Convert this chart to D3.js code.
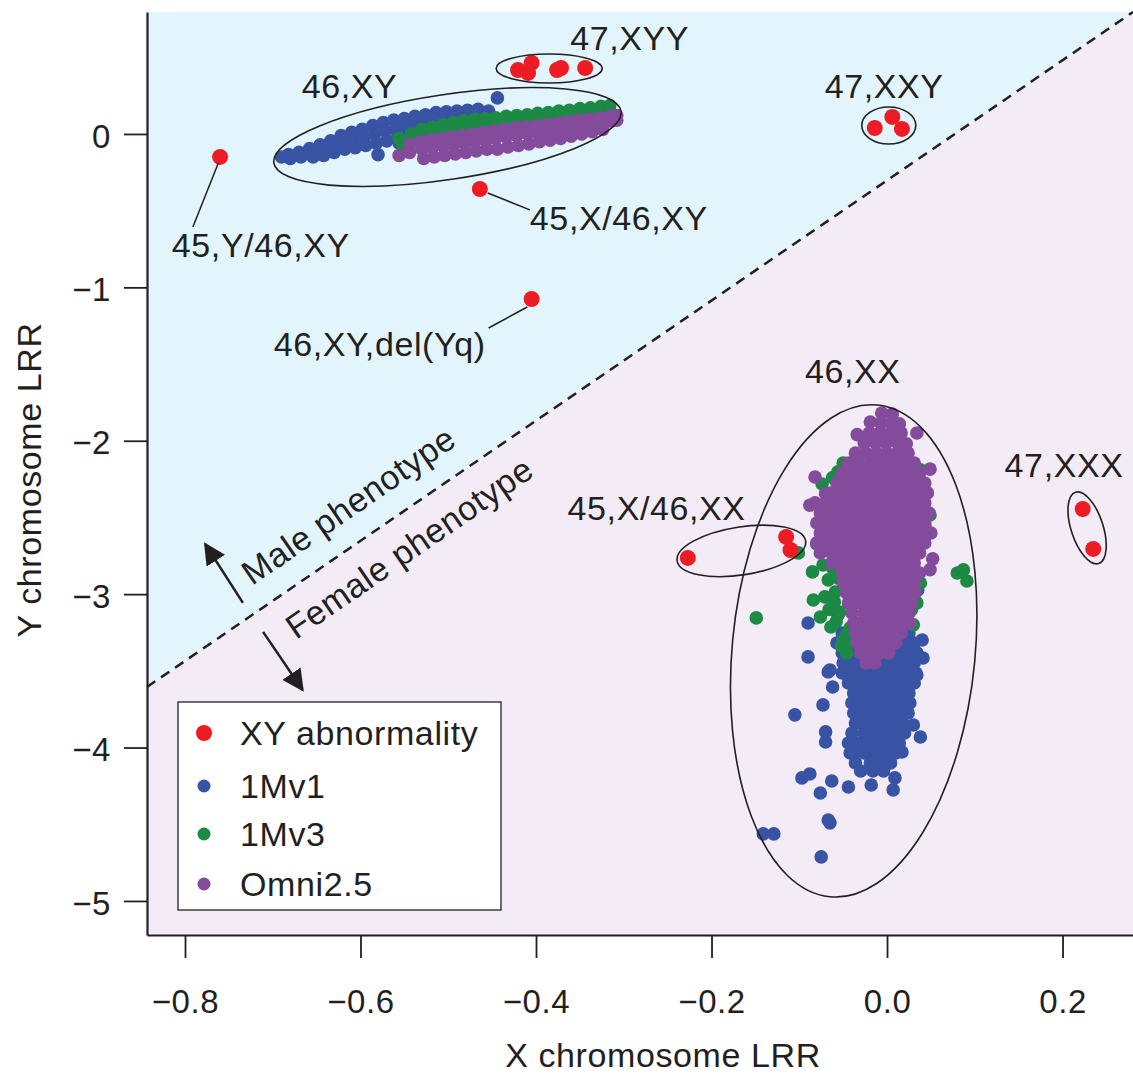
<!DOCTYPE html>
<html>
<head>
<meta charset="utf-8">
<script src="https://cdn.jsdelivr.net/npm/d3@7/dist/d3.min.js"></script>
<style>
body { margin: 0; background: #fff; }
svg text { font-family: "Liberation Sans", Arial, Helvetica, sans-serif; fill: #231f20; }
</style>
</head>
<body>
<svg id="chart"></svg>
<script>
var w = 1133, h = 1074;

// ---- data ----
var xTicks = [-0.8, -0.6, -0.4, -0.2, 0.0, 0.2];
var yTicks = [0, -1, -2, -3, -4, -5];
var seriesNames = ["XY abnormality", "1Mv1", "1Mv3", "Omni2.5"];
var seriesColors = ["#ed1c24", "#3853a4", "#1c8a45", "#844b9d"];

// phenotype boundary (X LRR, Y LRR)
var boundary = [[-0.8433, -3.605], [0.2803, 0.795]];

// 1Mv1 samples, male cluster
var v1Male = [
  [-0.690,-0.150],[-0.682,-0.135],[-0.680,-0.160],[-0.670,-0.120],[-0.668,-0.150],
  [-0.658,-0.095],[-0.656,-0.130],[-0.654,-0.150],[-0.646,-0.070],[-0.644,-0.105],[-0.642,-0.140],
  [-0.634,-0.045],[-0.632,-0.085],[-0.630,-0.120],[-0.622,-0.010],[-0.620,-0.060],[-0.618,-0.100],
  [-0.610,0.010],[-0.608,-0.040],[-0.606,-0.090],[-0.598,0.030],[-0.596,-0.020],[-0.594,-0.075],
  [-0.586,0.055],[-0.584,0.000],[-0.582,-0.060],[-0.580,-0.135],[-0.574,0.075],[-0.572,0.020],[-0.570,-0.045],
  [-0.562,0.090],[-0.560,0.035],[-0.558,-0.020],[-0.556,-0.060],[-0.550,0.100],[-0.548,0.050],[-0.546,0.000],
  [-0.538,0.115],[-0.536,0.065],[-0.534,0.020],[-0.526,0.125],[-0.524,0.080],[-0.522,0.035],
  [-0.514,0.140],[-0.512,0.095],[-0.510,0.050],[-0.502,0.145],[-0.500,0.105],[-0.490,0.150],[-0.488,0.115],
  [-0.478,0.155],[-0.476,0.120],[-0.466,0.160],[-0.464,0.125],[-0.454,0.150],[-0.452,0.120],[-0.444,0.235]
];
// 1Mv1 samples, female cluster
var v1Female = [
  [-0.051,-3.253],[-0.038,-3.253],[-0.026,-3.253],[-0.013,-3.253],[-0.001,-3.253],[0.012,-3.253],[0.025,-3.253],
  [-0.057,-3.318],[-0.044,-3.318],[-0.032,-3.318],[-0.019,-3.318],[-0.007,-3.318],[0.006,-3.318],[0.018,-3.318],[0.031,-3.318],
  [-0.051,-3.383],[-0.038,-3.383],[-0.026,-3.383],[-0.013,-3.383],[-0.001,-3.383],[0.012,-3.383],[0.025,-3.383],[0.034,-3.383],
  [-0.050,-3.449],[-0.044,-3.449],[-0.032,-3.449],[-0.019,-3.449],[-0.007,-3.449],[0.006,-3.449],[0.018,-3.449],[0.031,-3.449],
  [-0.051,-3.514],[-0.038,-3.514],[-0.026,-3.514],[-0.013,-3.514],[-0.001,-3.514],[0.012,-3.514],[0.025,-3.514],[0.033,-3.514],
  [-0.044,-3.579],[-0.032,-3.579],[-0.019,-3.579],[-0.007,-3.579],[0.006,-3.579],[0.018,-3.579],[0.031,-3.579],
  [-0.038,-3.644],[-0.026,-3.644],[-0.013,-3.644],[-0.001,-3.644],[0.012,-3.644],[0.025,-3.644],
  [-0.040,-3.709],[-0.032,-3.709],[-0.019,-3.709],[-0.007,-3.709],[0.006,-3.709],[0.018,-3.709],[0.026,-3.709],
  [-0.038,-3.775],[-0.026,-3.775],[-0.013,-3.775],[-0.001,-3.775],[0.012,-3.775],[0.024,-3.775],
  [-0.036,-3.840],[-0.032,-3.840],[-0.019,-3.840],[-0.007,-3.840],[0.006,-3.840],[0.018,-3.840],
  [-0.040,-3.905],[-0.026,-3.905],[-0.013,-3.905],[-0.001,-3.905],[0.012,-3.905],[0.020,-3.905],
  [-0.044,-3.970],[-0.032,-3.970],[-0.019,-3.970],[-0.007,-3.970],[0.006,-3.970],[0.014,-3.970],
  [-0.042,-4.035],[-0.038,-4.035],[-0.026,-4.035],[-0.013,-4.035],[-0.001,-4.035],[0.010,-4.035],
  [-0.036,-4.100],[-0.019,-4.100],[-0.007,-4.100],[0.004,-4.100],[-0.030,-4.153],[-0.016,-4.153],[-0.004,-4.153],
  [-0.090,-3.188],[-0.090,-3.409],[-0.065,-3.494],[-0.062,-3.605],[-0.073,-3.722],[-0.105,-3.787],
  [-0.070,-3.898],[-0.070,-3.964],[-0.097,-4.198],[-0.088,-4.172],[-0.063,-4.218],[-0.076,-4.296],
  [-0.044,-4.257],[-0.018,-4.244],[0.007,-4.276],[0.009,-4.198],[-0.067,-4.472],[-0.065,-4.491],
  [-0.141,-4.563],[-0.129,-4.563],[-0.075,-4.713],[0.038,-3.931],[0.030,-3.853],[0.017,-4.029],
  [0.040,-3.299],[0.041,-3.416],[0.034,-3.527],[-0.056,-3.136],[0.035,-2.973],[-0.067,-3.507]
];
// 1Mv3 samples, male cluster
var v3Male = [
  [-0.556,-0.030],[-0.552,-0.075],[-0.550,-0.100],[-0.542,0.000],[-0.540,-0.050],[-0.530,0.030],[-0.528,-0.020],
  [-0.518,0.045],[-0.516,0.000],[-0.506,0.060],[-0.504,0.015],[-0.494,0.075],[-0.492,0.030],
  [-0.482,0.085],[-0.480,0.040],[-0.470,0.095],[-0.468,0.050],[-0.458,0.100],[-0.456,0.060],
  [-0.446,0.105],[-0.444,0.065],[-0.434,0.115],[-0.432,0.075],[-0.422,0.120],[-0.420,0.080],
  [-0.410,0.125],[-0.408,0.085],[-0.398,0.135],[-0.396,0.095],[-0.386,0.140],[-0.384,0.100],
  [-0.374,0.150],[-0.372,0.110],[-0.362,0.155],[-0.360,0.115],[-0.350,0.165],[-0.348,0.125],
  [-0.338,0.170],[-0.336,0.130],[-0.326,0.180],[-0.324,0.140],[-0.316,0.185],[-0.316,0.150]
];
// 1Mv3 samples, female cluster
var v3Female = [
  [-0.050,-2.145],[-0.074,-2.282],[-0.056,-2.203],[-0.062,-2.240],[-0.080,-2.673],[-0.071,-2.712],
  [-0.085,-2.855],[-0.073,-2.810],[-0.062,-2.829],[-0.067,-2.907],[-0.056,-2.894],[-0.059,-2.986],
  [-0.048,-2.973],[-0.071,-3.018],[-0.084,-3.038],[-0.060,-3.050],[-0.066,-3.100],[-0.054,-3.116],
  [-0.076,-3.149],[-0.058,-3.180],[-0.064,-3.214],[-0.042,-3.220],[-0.046,-3.260],[-0.050,-3.299],
  [-0.052,-3.340],[-0.040,-3.300],[-0.046,-3.383],[-0.031,-3.331],[-0.024,-3.300],[-0.017,-3.364],
  [-0.010,-3.340],[-0.005,-3.299],[0.002,-3.330],[0.009,-3.299],[0.016,-3.250],[0.023,-3.149],
  [0.030,-3.200],[0.028,-3.100],[0.034,-3.057],[0.038,-2.927],[0.043,-2.549],[0.049,-2.484],
  [0.038,-2.190],[-0.149,-3.155],[0.080,-2.862],[0.087,-2.842],[0.091,-2.914],[-0.101,-2.731]
];
// Omni2.5 samples, male cluster
var omniMale = [
  [-0.556,-0.140],[-0.544,-0.070],[-0.544,-0.120],[-0.532,-0.050],[-0.530,-0.100],[-0.528,-0.160],
  [-0.520,-0.040],[-0.518,-0.090],[-0.516,-0.150],[-0.508,-0.030],[-0.506,-0.080],[-0.504,-0.140],
  [-0.496,-0.020],[-0.494,-0.070],[-0.492,-0.130],[-0.484,-0.010],[-0.482,-0.060],[-0.480,-0.120],
  [-0.472,0.000],[-0.470,-0.050],[-0.468,-0.110],[-0.460,0.010],[-0.458,-0.040],[-0.456,-0.100],
  [-0.448,0.020],[-0.446,-0.030],[-0.444,-0.100],[-0.436,0.030],[-0.434,-0.020],[-0.432,-0.085],
  [-0.424,0.040],[-0.422,-0.010],[-0.420,-0.075],[-0.412,0.045],[-0.410,0.000],[-0.408,-0.065],
  [-0.400,0.055],[-0.398,0.005],[-0.396,-0.050],[-0.388,0.060],[-0.386,0.015],[-0.384,-0.040],
  [-0.376,0.070],[-0.374,0.025],[-0.372,-0.030],[-0.364,0.080],[-0.362,0.035],[-0.360,-0.015],
  [-0.352,0.090],[-0.350,0.045],[-0.348,0.000],[-0.340,0.095],[-0.338,0.055],[-0.336,0.015],
  [-0.328,0.105],[-0.326,0.070],[-0.324,0.030],[-0.316,0.115],[-0.314,0.085],[-0.308,0.120],[-0.308,0.090]
];
// Omni2.5 samples, female cluster
var omniFemale = [
  [-0.006,-1.819],[0.006,-1.826],
  [-0.019,-1.878],[-0.007,-1.884],[0.005,-1.884],[0.014,-1.890],
  [-0.034,-1.960],[-0.020,-1.949],[-0.008,-1.949],[0.004,-1.949],[0.016,-1.949],[0.034,-1.949],
  [-0.026,-2.014],[-0.013,-2.014],[-0.001,-2.014],[0.012,-2.014],[0.022,-2.020],
  [-0.036,-2.080],[-0.024,-2.080],[-0.012,-2.080],[0.000,-2.080],[0.012,-2.080],[0.024,-2.080],
  [-0.044,-2.145],[-0.032,-2.145],[-0.019,-2.145],[-0.007,-2.145],[0.006,-2.145],[0.018,-2.145],[0.031,-2.145],[0.049,-2.185],
  [-0.082,-2.236],[-0.051,-2.210],[-0.038,-2.210],[-0.026,-2.210],[-0.013,-2.210],[-0.001,-2.210],[0.012,-2.210],[0.025,-2.210],[0.037,-2.210],
  [-0.057,-2.275],[-0.044,-2.275],[-0.032,-2.275],[-0.019,-2.275],[-0.007,-2.275],[0.006,-2.275],[0.018,-2.275],[0.031,-2.275],[0.043,-2.275],
  [-0.070,-2.345],[-0.063,-2.340],[-0.051,-2.340],[-0.038,-2.340],[-0.026,-2.340],[-0.013,-2.340],[-0.001,-2.340],[0.012,-2.340],[0.025,-2.340],[0.037,-2.340],[0.046,-2.340],
  [-0.088,-2.420],[-0.082,-2.405],[-0.070,-2.405],[-0.057,-2.405],[-0.044,-2.405],[-0.032,-2.405],[-0.019,-2.405],[-0.007,-2.405],[0.006,-2.405],[0.018,-2.405],[0.031,-2.405],[0.043,-2.405],
  [-0.076,-2.471],[-0.063,-2.471],[-0.051,-2.471],[-0.038,-2.471],[-0.026,-2.471],[-0.013,-2.471],[-0.001,-2.471],[0.012,-2.471],[0.025,-2.471],[0.037,-2.471],[0.048,-2.471],
  [-0.080,-2.536],[-0.070,-2.536],[-0.057,-2.536],[-0.044,-2.536],[-0.032,-2.536],[-0.019,-2.536],[-0.007,-2.536],[0.006,-2.536],[0.018,-2.536],[0.031,-2.536],[0.043,-2.536],
  [-0.076,-2.601],[-0.063,-2.601],[-0.051,-2.601],[-0.038,-2.601],[-0.026,-2.601],[-0.013,-2.601],[-0.001,-2.601],[0.012,-2.601],[0.025,-2.601],[0.037,-2.601],[0.050,-2.601],
  [-0.080,-2.666],[-0.070,-2.666],[-0.057,-2.666],[-0.044,-2.666],[-0.032,-2.666],[-0.019,-2.666],[-0.007,-2.666],[0.006,-2.666],[0.018,-2.666],[0.031,-2.666],[0.043,-2.666],
  [-0.076,-2.731],[-0.063,-2.731],[-0.051,-2.731],[-0.038,-2.731],[-0.026,-2.731],[-0.013,-2.731],[-0.001,-2.731],[0.012,-2.731],[0.025,-2.731],[0.037,-2.731],[0.052,-2.770],
  [-0.063,-2.797],[-0.057,-2.797],[-0.044,-2.797],[-0.032,-2.797],[-0.019,-2.797],[-0.007,-2.797],[0.006,-2.797],[0.018,-2.797],[0.031,-2.797],[0.049,-2.840],
  [-0.051,-2.862],[-0.038,-2.862],[-0.026,-2.862],[-0.013,-2.862],[-0.001,-2.862],[0.012,-2.862],[0.025,-2.862],[0.037,-2.862],
  [-0.050,-2.927],[-0.044,-2.927],[-0.032,-2.927],[-0.019,-2.927],[-0.007,-2.927],[0.006,-2.927],[0.018,-2.927],[0.031,-2.927],
  [-0.046,-2.992],[-0.038,-2.992],[-0.026,-2.992],[-0.013,-2.992],[-0.001,-2.992],[0.012,-2.992],[0.025,-2.992],[0.032,-2.992],
  [-0.044,-3.057],[-0.032,-3.057],[-0.019,-3.057],[-0.007,-3.057],[0.006,-3.057],[0.018,-3.057],[0.028,-3.057],
  [-0.040,-3.123],[-0.026,-3.123],[-0.013,-3.123],[-0.001,-3.123],[0.012,-3.123],[0.025,-3.123],
  [-0.038,-3.188],[-0.032,-3.188],[-0.019,-3.188],[-0.007,-3.188],[0.006,-3.188],[0.018,-3.188],[0.026,-3.188],
  [-0.036,-3.253],[-0.026,-3.253],[-0.013,-3.253],[-0.001,-3.253],[0.012,-3.253],[0.016,-3.253],
  [-0.034,-3.318],[-0.019,-3.318],[-0.007,-3.318],[0.006,-3.318],[0.010,-3.318],
  [-0.030,-3.383],[-0.020,-3.383],[-0.008,-3.383],[0.002,-3.383],
  [-0.024,-3.449],[-0.014,-3.449]
];
// XY abnormality samples
var abnormal = [
  [-0.760,-0.150],[-0.464,-0.359],[-0.405,-1.076],
  [-0.4205,0.417],[-0.405,0.463],[-0.409,0.398],[-0.376,0.417],[-0.3715,0.430],[-0.344,0.430],
  [-0.014,0.039],[0.006,0.111],[0.017,0.033],
  [0.223,-2.445],[0.235,-2.705],
  [-0.227,-2.764],[-0.115,-2.627],[-0.110,-2.712]
];

// annotations
var labels = [
  {t: "47,XYY", x: -0.361, y: 0.548, a: "start"},
  {t: "46,XY", x: -0.667, y: 0.235, a: "start"},
  {t: "47,XXY", x: -0.071, y: 0.235, a: "start"},
  {t: "45,Y/46,XY", x: -0.815, y: -0.802, a: "start"},
  {t: "45,X/46,XY", x: -0.407, y: -0.626, a: "start"},
  {t: "46,XY,del(Yq)", x: -0.699, y: -1.447, a: "start"},
  {t: "46,XX", x: -0.039, y: -1.623, a: "middle"},
  {t: "47,XXX", x: 0.134, y: -2.236, a: "start"},
  {t: "45,X/46,XX", x: -0.364, y: -2.516, a: "start"}
];
var leaders = [
  [[-0.762, -0.189], [-0.791, -0.606]],
  [[-0.455, -0.385], [-0.407, -0.495]],
  [[-0.410, -1.128], [-0.454, -1.265]]
];
var rings = [
  {cx: -0.501, cy: -0.020, rx: 175.5, ry: 42.5, rot: -8.5},
  {cx: -0.385, cy: 0.427, rx: 53, ry: 14.5, rot: 0},
  {cx: 0.002, cy: 0.055, rx: 27, ry: 18.5, rot: 0},
  {cx: 0.228, cy: -2.568, rx: 16, ry: 37.5, rot: -18},
  {cx: -0.166, cy: -2.718, rx: 65, ry: 24, rot: -8.8},
  {cx: -0.038, cy: -3.370, rx: 121.5, ry: 247, rot: 5.5}
];
var phenoText = [
  {t: "Male phenotype", x: -0.7236, y: -2.947},
  {t: "Female phenotype", x: -0.6735, y: -3.299}
];
var arrows = [
  [[-0.734, -3.057], [-0.777, -2.673]],
  [[-0.711, -3.246], [-0.666, -3.625]]
];

// ---- drawing ----
var ink = "#231f20";
var x = d3.scaleLinear().domain([-0.8433, 0.2803]).range([147, 1133]);
var y = d3.scaleLinear().domain([0.795, -5.222]).range([12, 935]);

var svg = d3.select("#chart").attr("width", w).attr("height", h);

var xd = x.domain(), yd = y.domain();
var b0 = boundary[0], b1 = boundary[1];
var poly = d3.line().x(function(d){ return x(d[0]); }).y(function(d){ return y(d[1]); });

svg.append("path")
  .attr("d", poly([[xd[0], yd[0]], b1, b0]) + "Z")
  .attr("fill", "#e2f5fc");
svg.append("path")
  .attr("d", poly([b0, b1, [xd[1], yd[1]], [xd[0], yd[1]]]) + "Z")
  .attr("fill", "#f3ecf6");
svg.append("path")
  .attr("d", poly(boundary))
  .attr("stroke", ink).attr("stroke-width", 2.5)
  .attr("stroke-dasharray", "10,7").attr("fill", "none");

// points: 1Mv1, 1Mv3, Omni2.5, then abnormalities on top
var layers = [
  {pts: v1Male.concat(v1Female), c: seriesColors[1], r: 6.8},
  {pts: v3Male.concat(v3Female), c: seriesColors[2], r: 6.8},
  {pts: omniMale.concat(omniFemale), c: seriesColors[3], r: 6.8},
  {pts: abnormal, c: seriesColors[0], r: 8}
];
layers.forEach(function(L){
  svg.append("g").selectAll("circle")
    .data(L.pts)
    .enter()
    .append("circle")
    .attr("cx", function(d){ return x(d[0]); })
    .attr("cy", function(d){ return y(d[1]); })
    .attr("r", L.r)
    .attr("fill", L.c);
});

svg.append("g").selectAll("ellipse")
  .data(rings)
  .enter()
  .append("ellipse")
  .attr("transform", function(d){ return "translate(" + x(d.cx) + "," + y(d.cy) + ") rotate(" + d.rot + ")"; })
  .attr("rx", function(d){ return d.rx; })
  .attr("ry", function(d){ return d.ry; })
  .attr("fill", "none")
  .attr("stroke", ink)
  .attr("stroke-width", 1.6);

svg.append("g").selectAll("line")
  .data(leaders)
  .enter()
  .append("line")
  .attr("x1", function(d){ return x(d[0][0]); })
  .attr("y1", function(d){ return y(d[0][1]); })
  .attr("x2", function(d){ return x(d[1][0]); })
  .attr("y2", function(d){ return y(d[1][1]); })
  .attr("stroke", ink).attr("stroke-width", 1.5);

svg.append("g").selectAll("text")
  .data(labels)
  .enter()
  .append("text")
  .attr("x", function(d){ return x(d.x); })
  .attr("y", function(d){ return y(d.y); })
  .attr("text-anchor", function(d){ return d.a; })
  .attr("font-size", 34)
  .attr("letter-spacing", 0.6)
  .text(function(d){ return d.t; });

svg.append("g").selectAll("text")
  .data(phenoText)
  .enter()
  .append("text")
  .attr("transform", function(d){ return "translate(" + x(d.x) + "," + y(d.y) + ") rotate(-34.5)"; })
  .attr("font-size", 34)
  .attr("letter-spacing", 0.6)
  .text(function(d){ return d.t; });

svg.append("defs").append("marker")
  .attr("id", "head")
  .attr("viewBox", "0 0 10 10")
  .attr("refX", 9).attr("refY", 5)
  .attr("markerUnits", "userSpaceOnUse")
  .attr("markerWidth", 22).attr("markerHeight", 22)
  .attr("orient", "auto")
  .append("path").attr("d", "M0,0L10,5L0,10Z").attr("fill", ink);

svg.append("g").selectAll("line")
  .data(arrows)
  .enter()
  .append("line")
  .attr("x1", function(d){ return x(d[0][0]); })
  .attr("y1", function(d){ return y(d[0][1]); })
  .attr("x2", function(d){ return x(d[1][0]); })
  .attr("y2", function(d){ return y(d[1][1]); })
  .attr("stroke", ink).attr("stroke-width", 2.5)
  .attr("marker-end", "url(#head)");

// axes
var xAxis = svg.append("g")
  .attr("transform", "translate(0,935)")
  .call(d3.axisBottom(x).tickValues(xTicks).tickFormat(d3.format(".1f")).tickSize(23).tickSizeOuter(0));
var yAxis = svg.append("g")
  .attr("transform", "translate(147,0)")
  .call(d3.axisLeft(y).tickValues(yTicks).tickFormat(d3.format("d")).tickSize(23).tickSizeOuter(0));

[xAxis, yAxis].forEach(function(g){
  g.attr("font-family", null).attr("font-size", null).attr("color", ink);
  g.select(".domain").attr("stroke-width", 2.2);
  g.selectAll(".tick line").attr("stroke-width", 1.8);
  g.selectAll(".tick text").attr("font-size", 33).attr("letter-spacing", 0.6);
});
xAxis.selectAll(".tick text").attr("y", 78).attr("dy", null);
yAxis.selectAll(".tick text").attr("x", -36).attr("dy", "0.4em");

svg.append("text")
  .attr("x", 663).attr("y", 1067)
  .attr("text-anchor", "middle")
  .attr("font-size", 34).attr("letter-spacing", 0.6)
  .text("X chromosome LRR");
svg.append("text")
  .attr("transform", "translate(41,480) rotate(-90)")
  .attr("text-anchor", "middle")
  .attr("font-size", 34).attr("letter-spacing", 0.6)
  .text("Y chromosome LRR");

// legend
var legend = svg.append("g").attr("transform", "translate(178,702)");
legend.append("rect")
  .attr("width", 323).attr("height", 208)
  .attr("fill", "#fff").attr("stroke", ink).attr("stroke-width", 1.3);
var rowY = [31, 84, 132, 182];
var item = legend.selectAll(".item")
  .data(seriesNames)
  .enter()
  .append("g")
  .attr("transform", function(d, i){ return "translate(0," + rowY[i] + ")"; });
item.append("circle")
  .attr("cx", 26)
  .attr("r", function(d, i){ return i == 0 ? 8 : 6.5; })
  .attr("fill", function(d, i){ return seriesColors[i]; });
item.append("text")
  .attr("x", 62).attr("y", 12)
  .attr("font-size", 34).attr("letter-spacing", 0.6)
  .text(function(d){ return d; });
</script>
</body>
</html>
